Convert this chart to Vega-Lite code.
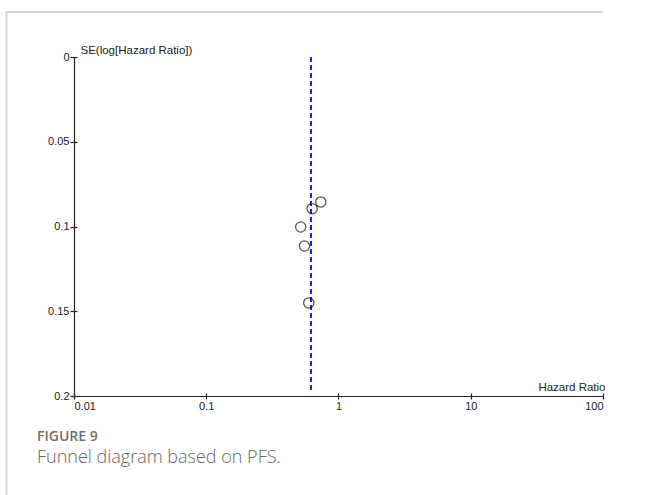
{
  "$schema": "https://vega.github.io/schema/vega-lite/v6.json",
  "width": 529,
  "height": 339,
  "autosize": {"type": "none"},
  "padding": {"left": 74, "top": 57, "right": 43, "bottom": 99},
  "background": "white",
  "config": {
    "view": {"stroke": null},
    "font": "Liberation Sans",
    "axis": {
      "domainColor": "#222",
      "tickColor": "#222",
      "labelColor": "#222",
      "titleColor": "#222",
      "labelFont": "Liberation Sans",
      "titleFont": "Liberation Sans",
      "labelFontSize": 11,
      "titleFontSize": 11.5,
      "titleFontWeight": "normal",
      "grid": false,
      "domainWidth": 1.2,
      "tickWidth": 1.2
    }
  },
  "title": {
    "text": "FIGURE 9",
    "subtitle": "Funnel diagram based on PFS.",
    "orient": "bottom",
    "anchor": "start",
    "frame": "group",
    "dx": -37,
    "offset": -66,
    "font": "Open Sans",
    "fontSize": 14,
    "fontWeight": 600,
    "color": "#707070",
    "subtitleFont": "Open Sans",
    "subtitleFontSize": 18,
    "subtitleFontWeight": 300,
    "subtitleColor": "#666666",
    "subtitlePadding": 5
  },
  "data": {
    "values": [
      {"study": "A", "hr": 0.735, "se": 0.0855},
      {"study": "B", "hr": 0.632, "se": 0.0895},
      {"study": "C", "hr": 0.518, "se": 0.1003},
      {"study": "D", "hr": 0.553, "se": 0.1115},
      {"study": "E", "hr": 0.596, "se": 0.1451}
    ]
  },
  "layer": [
    {
      "mark": {"type": "rule", "color": "#d4d4d4", "strokeWidth": 1.2, "clip": false},
      "encoding": {
        "x": {"datum": 0.003088, "type": "quantitative", "scale": {"type": "log", "domain": [0.01, 100], "nice": false}, "axis": null},
        "y": {"datum": -0.02655, "type": "quantitative", "scale": {"domain": [0, 0.2], "reverse": true, "nice": false, "zero": false}, "axis": null},
        "y2": {"datum": 0.2584}
      }
    },
    {
      "mark": {"type": "rule", "color": "#d4d4d4", "strokeWidth": 1.2, "clip": false},
      "encoding": {
        "x": {"datum": 0.003088, "type": "quantitative", "scale": {"type": "log", "domain": [0.01, 100], "nice": false}, "axis": null},
        "x2": {"datum": 100},
        "y": {"datum": -0.02655, "type": "quantitative", "scale": {"domain": [0, 0.2], "reverse": true, "nice": false, "zero": false}, "axis": null}
      }
    },
    {
      "mark": {"type": "rule", "color": "#1a1ae0", "strokeWidth": 1.4, "strokeDash": [5, 3]},
      "encoding": {
        "x": {"datum": 0.617, "type": "quantitative", "scale": {"type": "log", "domain": [0.01, 100], "nice": false},
          "axis": {"orient": "bottom", "values": [0.01, 0.1, 1, 10, 100], "tickSize": -3, "labels": false, "domain": false, "title": null}},
        "y": {"datum": 0, "type": "quantitative", "scale": {"domain": [0, 0.2], "reverse": true, "nice": false, "zero": false},
          "axis": {"orient": "left", "values": [0, 0.05, 0.1, 0.15, 0.2], "tickSize": -3, "labels": false, "domain": false, "title": null}},
        "y2": {"datum": 0.1975}
      }
    },
    {
      "mark": {"type": "point", "shape": "circle", "filled": false, "stroke": "#111", "strokeWidth": 1.3, "size": 105},
      "encoding": {
        "x": {"field": "hr", "type": "quantitative", "scale": {"type": "log", "domain": [0.01, 100], "nice": false},
          "axis": {"orient": "bottom", "values": [0.01, 0.1, 1, 10, 100], "format": "~g", "tickSize": 3, "labelPadding": 1,
            "title": "Hazard Ratio", "titleAnchor": "end", "titleAlign": "right", "titleX": 531, "titleY": -6, "titleBaseline": "alphabetic"}},
        "y": {"field": "se", "type": "quantitative", "scale": {"domain": [0, 0.2], "reverse": true, "nice": false, "zero": false},
          "axis": {"orient": "left", "values": [0, 0.05, 0.1, 0.15, 0.2], "format": "~g", "tickSize": 4, "labelPadding": 1,
            "title": "SE(log[Hazard Ratio])", "titleAngle": 0, "titleAlign": "left", "titleX": 6, "titleY": -4, "titleBaseline": "alphabetic"}}
      }
    }
  ],
  "resolve": {"axis": {"x": "independent", "y": "independent"}}
}
